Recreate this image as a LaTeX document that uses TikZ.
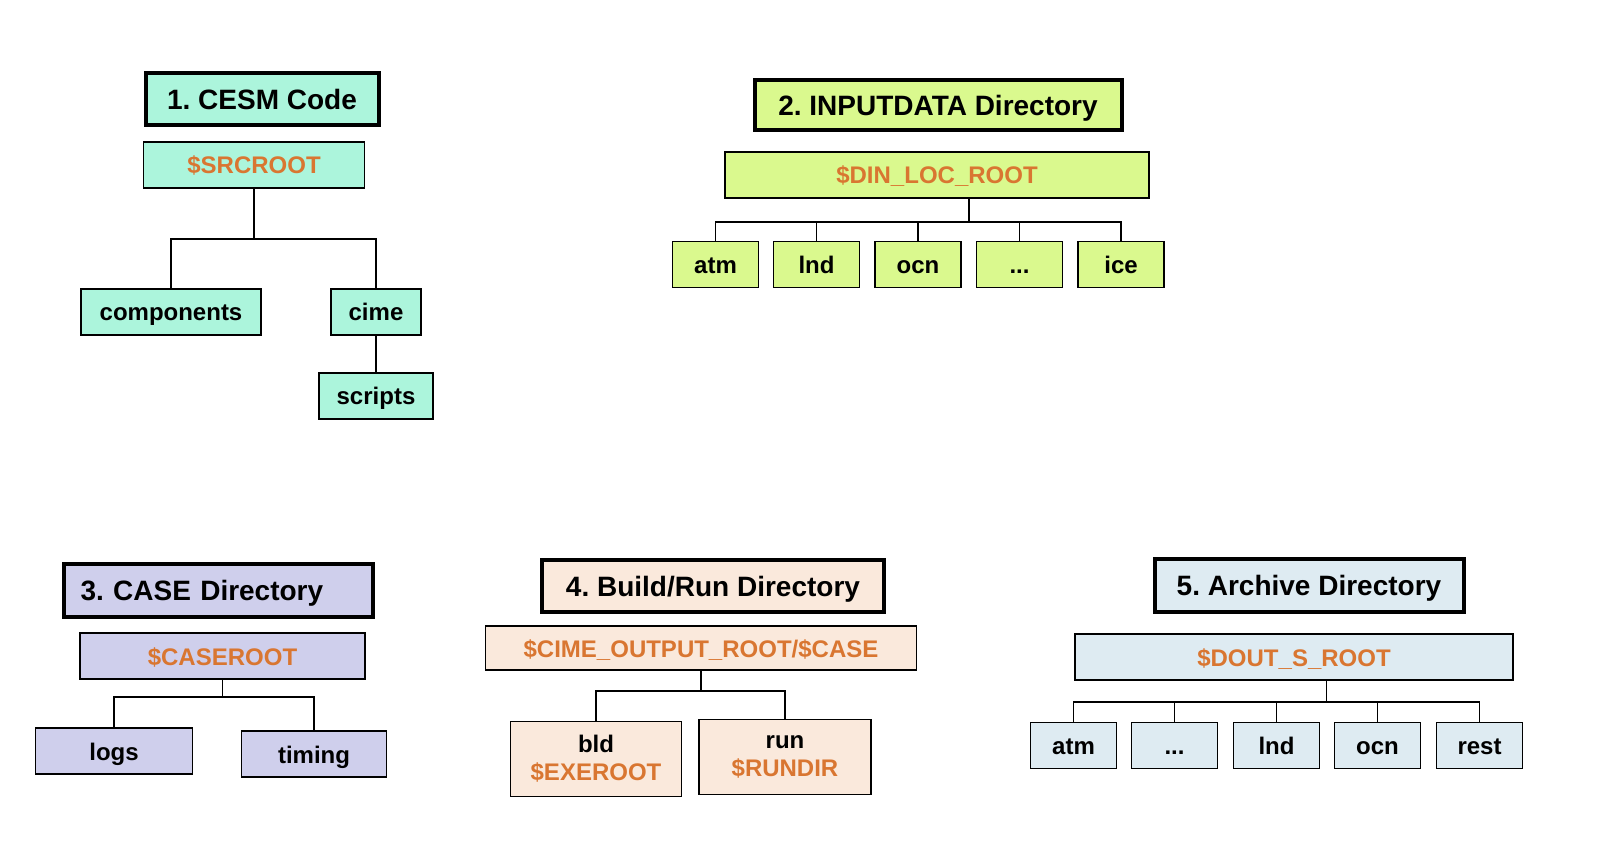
\documentclass[tikz,border=0pt]{standalone}
\usepackage{fontspec}
\setmainfont{Liberation Sans}
\usetikzlibrary{calc}

\definecolor{cesmfill}{RGB}{172,245,220}
\definecolor{inputfill}{RGB}{218,249,142}
\definecolor{casefill}{RGB}{207,207,236}
\definecolor{runfill}{RGB}{250,233,220}
\definecolor{archfill}{RGB}{222,235,242}
\definecolor{varcolor}{RGB}{217,118,49}

\tikzset{
  boxsize/.style 2 args={minimum width=#1pt, minimum height=#2pt},
  dirbox/.style={draw, line width=1.5pt, inner sep=0pt, align=center,
    text height=19pt, text depth=1pt,
    font=\fontsize{24}{28}\selectfont\bfseries},
  twoline/.style={text height={}, text depth={}},
  titlebox/.style={draw, line width=4pt, inner sep=0pt,
    text height=21pt, text depth=0pt,
    font=\fontsize{28}{32}\selectfont\bfseries},
  var/.style={text=varcolor},
  link/.style={line width=1.5pt},
}

\begin{document}
\frenchspacing
\begin{tikzpicture}[x=1pt,y=-1pt]
\useasboundingbox (0,0) rectangle (1618,842);

% 1. CESM Code
\begin{scope}[every node/.append style={fill=cesmfill}]
  \node [titlebox, boxsize={233}{52}] (cesm) at (262,99) {1. CESM Code};
  \node [dirbox, var, boxsize={221}{46}] (src) at (254,165) {\$SRCROOT};
  \node [dirbox, boxsize={180}{46}] (comp) at (171,312) {components};
  \node [dirbox, boxsize={90}{46}] (cime) at (376,312) {cime};
  \node [dirbox, boxsize={114}{46}] (scripts) at (376,396) {scripts};
\end{scope}
\coordinate (srcbar) at (254,239);
\draw [link] (src.south) -- (srcbar) (comp.north) |- (srcbar)
  (cime.north) |- (srcbar) (cime) -- (scripts);

% 2. INPUTDATA Directory
\begin{scope}[every node/.append style={fill=inputfill}]
  \node [titlebox, boxsize={367}{50}] (inp) at (938,105.5) {2. INPUTDATA Directory};
  \node [dirbox, var, boxsize={424}{46}] (din) at (937,175) {\$DIN\_LOC\_ROOT};
  \node [dirbox, boxsize={86}{46}] (atmin) at (715.5,264.5) {atm};
  \node [dirbox, boxsize={86}{46}] (lndin) at (816.5,264.5) {lnd};
  \node [dirbox, boxsize={86}{46}] (ocnin) at (918,264.5) {ocn};
  \node [dirbox, boxsize={86}{46}] (dotsin) at (1019.5,264.5) {...};
  \node [dirbox, boxsize={86}{46}] (icein) at (1121,264.5) {ice};
\end{scope}
\coordinate (dinbar) at (969,222);
\draw [link] (din.south -| dinbar) -- (dinbar)
  (atmin.north) |- (dinbar) (lndin.north) |- (dinbar) (ocnin.north) |- (dinbar)
  (dotsin.north) |- (dinbar) (icein.north) |- (dinbar);

% 3. CASE Directory
\begin{scope}[every node/.append style={fill=casefill}]
  \node [titlebox, boxsize={309}{53}, text width=275pt, align=left] (casetitle) at (218,590) {3. CASE Directory};
  \node [dirbox, var, boxsize={285}{46}] (caseroot) at (222.5,656) {\$CASEROOT};
  \node [dirbox, boxsize={157}{46}] (logs) at (114,751) {logs};
  \node [dirbox, boxsize={145}{46}] (timing) at (314,754) {timing};
\end{scope}
\coordinate (casebar) at (222.5,697);
\draw [link] (caseroot.south) -- (casebar) (logs.north) |- (casebar)
  (timing.north) |- (casebar);

% 4. Build/Run Directory
\begin{scope}[every node/.append style={fill=runfill}]
  \node [titlebox, boxsize={342}{52}] (runtitle) at (713,586) {4. Build/Run Directory};
  \node [dirbox, var, boxsize={431}{44}] (out) at (701,648) {\$CIME\_OUTPUT\_ROOT/\$CASE};
  \node [dirbox, twoline, boxsize={171}{75}] (bld) at (596,759) {bld\\\textcolor{varcolor}{\$EXEROOT}};
  \node [dirbox, twoline, boxsize={172}{75}] (run) at (785,757) {run\\\textcolor{varcolor}{\$RUNDIR}};
\end{scope}
\coordinate (outbar) at (701,691);
\draw [link] (out.south) -- (outbar) (bld.north) |- (outbar)
  (run.north) |- (outbar);

% 5. Archive Directory
\begin{scope}[every node/.append style={fill=archfill}]
  \node [titlebox, boxsize={309}{53}] (archtitle) at (1309,585) {5. Archive Directory};
  \node [dirbox, var, boxsize={438}{46}] (dout) at (1294,657) {\$DOUT\_S\_ROOT};
  \node [dirbox, boxsize={86}{46}] (atmar) at (1073.5,745.5) {atm};
  \node [dirbox, boxsize={86}{46}] (dotsar) at (1174.5,745.5) {...};
  \node [dirbox, boxsize={86}{46}] (lndar) at (1276.5,745.5) {lnd};
  \node [dirbox, boxsize={86}{46}] (ocnar) at (1377.5,745.5) {ocn};
  \node [dirbox, boxsize={86}{46}] (restar) at (1479.5,745.5) {rest};
\end{scope}
\coordinate (doutbar) at (1326.5,702);
\draw [link] (dout.south -| doutbar) -- (doutbar)
  (atmar.north) |- (doutbar) (dotsar.north) |- (doutbar) (lndar.north) |- (doutbar)
  (ocnar.north) |- (doutbar) (restar.north) |- (doutbar);
\end{tikzpicture}
\end{document}
